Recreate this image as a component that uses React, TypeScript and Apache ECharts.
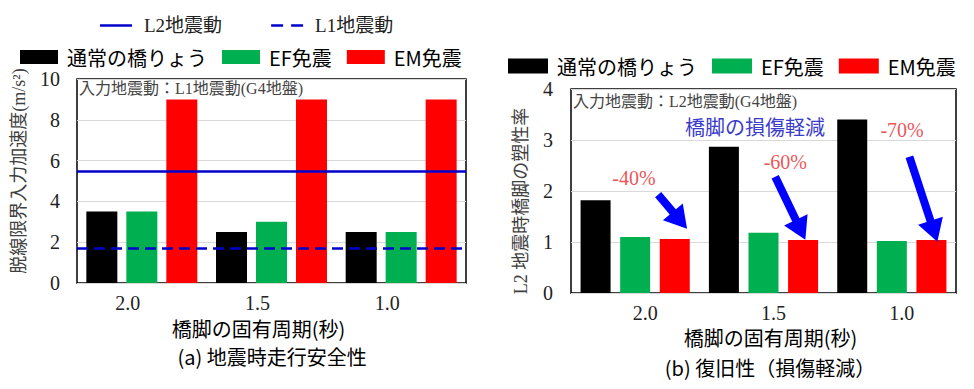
import React, { useEffect, useRef } from "react";
import * as echarts from "echarts";

const categories = ["2.0", "1.5", "1.0"];
const seriesNames = ["通常の橋りょう", "EF免震", "EM免震"];
const seriesColors = ["#000000", "#00b050", "#ff0000"];
const lineNames = ["L2地震動", "L1地震動"];

// (a) 地震時走行安全性
const safetyNormal = [3.5, 2.5, 2.5];
const safetyEF = [3.5, 3.0, 2.5];
const safetyEM = [9, 9, 9];
const levelL2 = 5.5;
const levelL1 = 1.7;

// (b) 復旧性
const ductNormal = [1.82, 2.87, 3.4];
const ductEF = [1.1, 1.18, 1.02];
const ductEM = [1.06, 1.04, 1.04];
const reductionLabels = ["-40%", "-60%", "-70%"];

// annotation anchors in data units of panel (b) (x: category index, y: value)
const reductionAnchorsX = [-0.01, 1.17, 2.08];
const reductionAnchorsY = [2.26, 2.56, 3.2];
const arrowStartX = [0.179, 1.091, 2.137];
const arrowStartY = [1.93, 2.28, 2.67];
const arrowEndX = [0.349, 1.289, 2.328];
const arrowEndY = [1.425, 1.239, 1.212];

const SERIF = "'Liberation Serif', 'Noto Sans CJK JP', serif";
const GOTHIC = "'Noto Sans CJK JP', sans-serif";

const SOLID_ICON = "path://M0,0h32v2.5h-32z";
const DASH_ICON = "path://M0,0h12v2.5h-12zM20,0h12v2.5h-12z";

export default function App() {
  const ref = useRef<HTMLDivElement>(null);

  useEffect(() => {
    if (!ref.current) return;
    const chart = echarts.init(ref.current, null, { renderer: "svg" });

    const barSeries = (
      data: number[],
      idx: number,
      axis: number,
      width: number,
      gap: string
    ) => ({
      type: "bar",
      name: seriesNames[idx],
      xAxisIndex: axis,
      yAxisIndex: axis,
      data,
      barWidth: width,
      barGap: gap,
      itemStyle: { color: seriesColors[idx] },
      silent: true,
    });

    const axisLabelBase = { fontFamily: SERIF, fontSize: 20, color: "#222" };

    const option: any = {
      animation: false,
      backgroundColor: "#ffffff",
      grid: [
        {
          left: 77,
          top: 79,
          width: 389,
          height: 204,
          show: true,
          borderColor: "#000",
          borderWidth: 1.5,
          backgroundColor: "transparent",
        },
        {
          left: 571,
          top: 89,
          width: 385,
          height: 204,
          show: true,
          borderColor: "#000",
          borderWidth: 1.5,
          backgroundColor: "transparent",
        },
      ],
      xAxis: [
        {
          type: "category",
          gridIndex: 0,
          data: categories,
          axisLine: { show: false },
          axisTick: { show: false },
          axisLabel: { ...axisLabelBase, margin: 10, padding: [0, 28, 0, 0] },
          name: "橋脚の固有周期(秒)",
          nameLocation: "middle",
          nameGap: 35,
          nameTextStyle: {
            fontFamily: GOTHIC,
            fontSize: 20,
            color: "#000",
            padding: [0, 26, 0, 0],
          },
        },
        {
          type: "category",
          gridIndex: 1,
          data: categories,
          axisLine: { show: false },
          axisTick: { show: false },
          axisLabel: { ...axisLabelBase, margin: 10, padding: [0, 0, 0, 20] },
          name: "橋脚の固有周期(秒)",
          nameLocation: "middle",
          nameGap: 30,
          nameTextStyle: {
            fontFamily: GOTHIC,
            fontSize: 20,
            color: "#000",
            padding: [0, 0, 0, 14],
          },
        },
        {
          type: "value",
          gridIndex: 1,
          min: -0.5,
          max: 2.5,
          show: false,
        },
      ],
      yAxis: [
        {
          type: "value",
          gridIndex: 0,
          min: 0,
          max: 10,
          interval: 2,
          axisLine: { show: false },
          axisTick: { show: false },
          axisLabel: { ...axisLabelBase, margin: 17 },
          splitLine: { lineStyle: { color: "#d9d9d9", width: 1.2 } },
          name: "脱線限界入力加速度(m/s²)",
          nameLocation: "middle",
          nameRotate: 90,
          nameGap: 49,
          nameTextStyle: {
            fontFamily: SERIF,
            fontSize: 18,
            color: "#404040",
            padding: [0, 0, 0, 20],
          },
        },
        {
          type: "value",
          gridIndex: 1,
          min: 0,
          max: 4,
          interval: 1,
          axisLine: { show: false },
          axisTick: { show: false },
          axisLabel: { ...axisLabelBase, margin: 18 },
          splitLine: { lineStyle: { color: "#d9d9d9", width: 1.2 } },
          name: "L2 地震時橋脚の塑性率",
          nameLocation: "middle",
          nameRotate: 90,
          nameGap: 41,
          nameTextStyle: {
            fontFamily: SERIF,
            fontSize: 18,
            color: "#404040",
            padding: [0, 20, 0, 0],
          },
        },
      ],
      legend: [
        {
          left: 95,
          top: 11,
          itemWidth: 32,
          itemHeight: 14,
          itemGap: 49,
          selectedMode: false,
          symbolKeepAspect: true,
          data: [
            { name: lineNames[0], icon: SOLID_ICON },
            { name: lineNames[1], icon: DASH_ICON },
          ],
          textStyle: {
            fontFamily: SERIF,
            fontSize: 19,
            color: "#222",
            padding: [0, 0, 0, 7],
          },
        },
        {
          left: 15,
          top: 42,
          icon: "rect",
          itemWidth: 38,
          itemHeight: 14,
          itemGap: 15,
          selectedMode: false,
          data: seriesNames,
          textStyle: {
            fontFamily: GOTHIC,
            fontSize: 20,
            color: "#000",
            padding: [0, 0, 0, 4],
          },
        },
        {
          left: 503,
          top: 51,
          icon: "rect",
          itemWidth: 40,
          itemHeight: 15,
          itemGap: 15,
          selectedMode: false,
          data: seriesNames,
          textStyle: {
            fontFamily: GOTHIC,
            fontSize: 20,
            color: "#000",
            padding: [0, 0, 0, 4],
          },
        },
      ],
      series: [
        barSeries(safetyNormal, 0, 0, 31, "29%"),
        barSeries(safetyEF, 1, 0, 31, "29%"),
        barSeries(safetyEM, 2, 0, 31, "29%"),
        {
          type: "line",
          name: lineNames[0],
          xAxisIndex: 0,
          yAxisIndex: 0,
          data: [],
          symbol: "none",
          color: "#0000cc",
          itemStyle: { color: "#0000cc" },
          lineStyle: { color: "#0000cc", width: 2.5, type: "solid" },
          markLine: {
            silent: true,
            symbol: ["none", "none"],
            label: { show: false },
            lineStyle: { color: "#0000cc", width: 2.5, type: "solid" },
            data: [{ yAxis: levelL2 }],
          },
        },
        {
          type: "line",
          name: lineNames[1],
          xAxisIndex: 0,
          yAxisIndex: 0,
          data: [],
          symbol: "none",
          color: "#0000cc",
          itemStyle: { color: "#0000cc" },
          lineStyle: { color: "#0000cc", width: 2.5, type: [10, 6] },
          markLine: {
            silent: true,
            symbol: ["none", "none"],
            label: { show: false },
            lineStyle: { color: "#0000cc", width: 2.5, type: [11, 6] },
            data: [{ yAxis: levelL1 }],
          },
        },
        barSeries(ductNormal, 0, 1, 30, "32%"),
        barSeries(ductEF, 1, 1, 30, "32%"),
        barSeries(ductEM, 2, 1, 30, "32%"),
        {
          type: "line",
          name: "arrows",
          xAxisIndex: 2,
          yAxisIndex: 1,
          data: [],
          symbol: "none",
          markLine: {
            silent: true,
            symbol: ["none", "triangle"],
            symbolSize: [26, 22],
            label: { show: false },
            lineStyle: { color: "#0000ff", width: 8, type: "solid", opacity: 1 },
            itemStyle: { color: "#0000ff" },
            data: arrowStartX.map((x, i) => [
              { coord: [x, arrowStartY[i]] },
              { coord: [arrowEndX[i], arrowEndY[i]] },
            ]),
          },
        },
        {
          type: "scatter",
          name: "notes",
          xAxisIndex: 2,
          yAxisIndex: 1,
          symbolSize: 0,
          silent: true,
          label: {
            show: true,
            position: "inside",
            formatter: "{b}",
            fontFamily: SERIF,
            fontSize: 20,
            color: "#e8262a",
          },
          data: reductionLabels.map((t, i) => ({
            name: t,
            value: [reductionAnchorsX[i], reductionAnchorsY[i]],
          })),
        },
      ],
      graphic: [
        {
          type: "text",
          x: 79,
          y: 88,
          silent: true,
          style: {
            text: "入力地震動：L1地震動(G4地盤)",
            fontFamily: SERIF,
            fontSize: 16,
            fill: "#444",
            verticalAlign: "middle",
          },
        },
        {
          type: "text",
          x: 573,
          y: 101,
          silent: true,
          style: {
            text: "入力地震動：L2地震動(G4地盤)",
            fontFamily: SERIF,
            fontSize: 16,
            fill: "#444",
            verticalAlign: "middle",
          },
        },
        {
          type: "text",
          x: 755,
          y: 128,
          silent: true,
          style: {
            text: "橋脚の損傷軽減",
            fontFamily: SERIF,
            fontSize: 20,
            fill: "#3a3acc",
            align: "center",
            verticalAlign: "middle",
          },
        },
        {
          type: "text",
          x: 272,
          y: 356,
          silent: true,
          style: {
            text: "(a) 地震時走行安全性",
            fontFamily: GOTHIC,
            fontSize: 20,
            fill: "#000",
            align: "center",
            verticalAlign: "middle",
          },
        },
        {
          type: "text",
          x: 770,
          y: 367,
          silent: true,
          style: {
            text: "(b) 復旧性（損傷軽減）",
            fontFamily: GOTHIC,
            fontSize: 20,
            fill: "#000",
            align: "center",
            verticalAlign: "middle",
          },
        },
      ],
    };

    chart.setOption(option);
    return () => chart.dispose();
  }, []);

  return (
    <div
      ref={ref}
      style={{ position: "absolute", left: 0, top: 0, width: 974, height: 389 }}
    />
  );
}
